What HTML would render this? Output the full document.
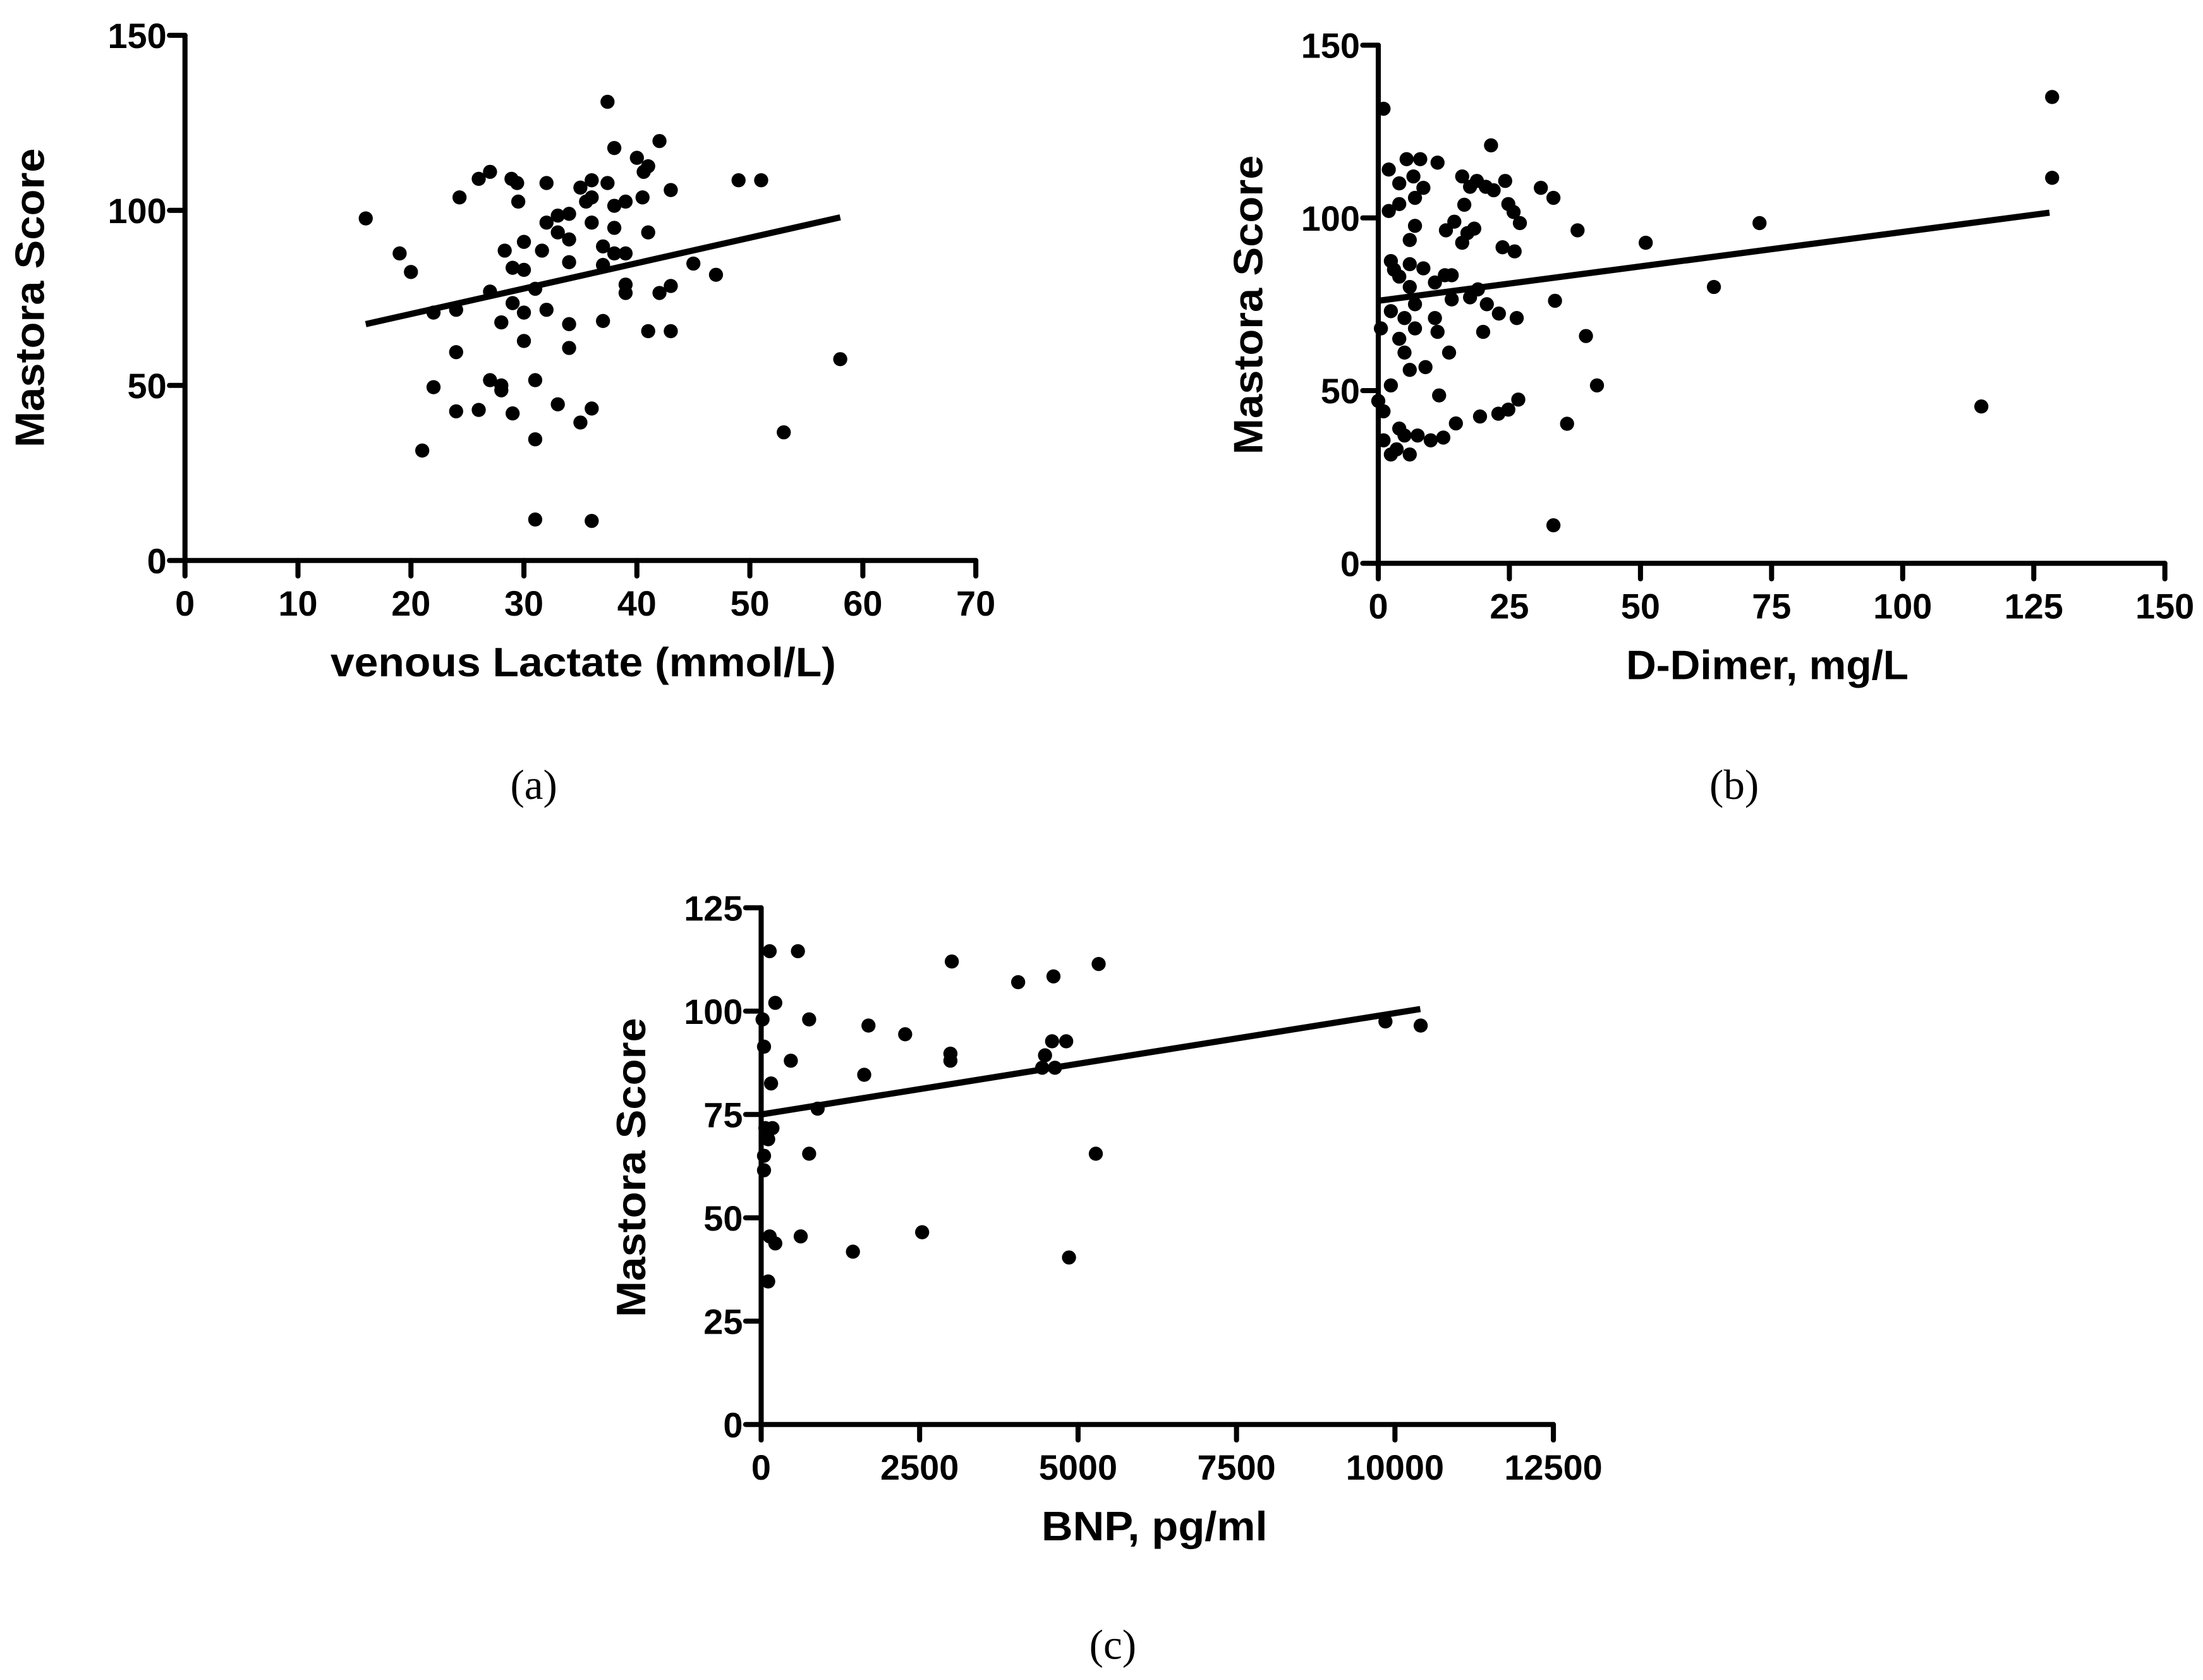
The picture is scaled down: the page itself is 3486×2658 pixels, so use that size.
<!DOCTYPE html>
<html><head><meta charset="utf-8"><style>
html,body{margin:0;padding:0;background:#fff}
svg{display:block}
text{font-family:"Liberation Sans",Arial,sans-serif;font-weight:bold;fill:#000}
.cap{font-family:"Liberation Serif",serif;font-weight:normal}
</style></head><body>
<svg id="fig" width="3486" height="2658" viewBox="0 0 1560 1190" preserveAspectRatio="none" xmlns="http://www.w3.org/2000/svg">
<rect width="1560" height="1190" fill="#fff"/>
</svg>
<script>
// Panel A: venous lactate
const aX=[16,19,20,21,22,22,24,24.3,24,24,26,26,27,27,27,28,28,28.3,28,28.9,29.4,29,29,29.5,29,30,30,30,30,31,31,31,31,31.6,32,32,32,33,33,33,34,34,34,34,34,35,35,35.5,36,36,36,36,36,37.4,37.4,37,37,37,38,38,38,38,39,39,39,39,40,40.5,40.6,41,41,41,42,42,43,43,43,45,47,49,51,53,58];
const aY=[97.7,87.7,82.4,31.4,70.8,49.5,59.5,103.7,42.6,71.6,109,43,111,76.8,51.5,50,68,88.5,48.6,109,107.8,73.5,83.6,102.5,42,91,62.7,83,70.8,77.6,51.5,34.6,11.7,88.5,107.8,96.5,71.6,93.7,98.5,44.6,99,91.7,85.2,67.5,60.7,106.5,39.4,102.5,108.6,103.7,96.5,11.3,43.4,107.8,131,89.7,84.4,68.4,87.7,95,117.8,101.3,87.7,78.8,76.4,102.5,115,103.7,111,112.6,93.7,65.5,119.8,76.4,105.8,78.4,65.5,84.8,81.6,108.6,108.6,36.6,57.5];
const aLineX=[16,58], aLineY=[67.5,98];
const aXTicks=[0,10,20,30,40,50,60,70], aYTicks=[0,50,100,150];
// Panel B: D-dimer
const bX=[1,0.5,0,1,1,2,2,2.4,2.4,2.4,2.4,3,3.5,4,4,4,4,4,5,5,5,5.4,6,6,6,6,6,6.7,7,7,7,7,7.5,8,8.6,8.6,9,10,10.8,10.8,11.3,11.3,11.6,12.4,12.7,12.9,13.5,14,14,14.5,14.8,16,16,16.4,17,17.5,17.5,18.3,18.8,19,19.4,20,20.5,20.7,21.5,22,22.9,23,23.7,24.2,24.8,24.8,25.8,26,26.4,26.7,27,31,33.4,33.4,33.7,36,38,39.6,41.7,51,64,72.7,115,128.5,128.5];
const bY=[131.6,68,47,44,35.6,114,102,87.5,73,51.5,31.5,85,33,110,104,83,65,39,71,61,37,117,93.6,86.6,80,56,31.5,112,105.8,97.7,75,68,37,117,108.7,85.4,56.8,35.6,81.3,71,116,67,48.6,36.4,83.4,96.4,61,83.4,76.4,98.9,40.5,112,92.8,103.8,95.6,109,77,96.9,110.7,79.3,42.5,67,109,75,121,108,43.3,72.3,91.5,110.7,44.5,104,101.7,90.3,71,47.4,98.5,108.7,105.8,11,76,40.4,96.4,65.8,51.5,92.8,80,98.5,45.4,135,111.6];
const bLineX=[0,128], bLineY=[76,101.5];
const bXTicks=[0,25,50,75,100,125,150], bYTicks=[0,50,100,150];
// Panel C: BNP
const cX=[134,580,223,22,45,156,67,178,111,45,45,134,223,111,468,624,757,891,757,1448,1693,1626,2272,2540,3008,2986,2986,4055,4434,4479,4590,4612,4635,4813,4857,5280,5325,9850,10406];
const cY=[114.5,114.5,102,98,91.4,82.5,71.7,71.7,69,65,61.5,45.5,43.8,34.6,88,45.5,98,76.4,65.5,41.8,96.5,84.6,94.4,46.5,112,89.7,88,107,86.3,89.3,92.7,108.4,86.3,92.7,40.4,65.5,111.4,97.5,96.5];
const cLineX=[0,10400], cLineY=[75,100.5];
const cXTicks=[0,2500,5000,7500,10000,12500], cYTicks=[0,25,50,75,100,125];

const NS="http://www.w3.org/2000/svg";
const svg=document.getElementById('fig');
function mk(tag,attrs,parent,txt){const e=document.createElementNS(NS,tag);for(const k in attrs)e.setAttribute(k,attrs[k]);if(txt!=null)e.textContent=txt;parent.appendChild(e);return e;}

function panel(cfg){
  const g=mk('g',{},svg);
  
  
  const sx=v=>cfg.x0+(v-cfg.xmin)/(cfg.xmax-cfg.xmin)*(cfg.x1-cfg.x0);
  const sy=v=>cfg.y0-(v-cfg.ymin)/(cfg.ymax-cfg.ymin)*(cfg.y0-cfg.y1);
  const ax=mk('path',{d:`M${cfg.x0},${cfg.y1}V${cfg.y0}H${cfg.x1}`,stroke:'#000','stroke-width':3.6,fill:'none','stroke-linecap':'round'},g);
  
  
  cfg.xt.forEach(t=>{
    mk('line',{x1:sx(t),x2:sx(t),y1:cfg.y0,y2:cfg.y0+11,stroke:'#000','stroke-width':3.6,'stroke-linecap':'round'},g);
    const tx=mk('text',{x:sx(t),y:cfg.y0+39,'text-anchor':'middle','font-size':25},g,String(t));
    
    
  });
  cfg.yt.forEach(t=>{
    mk('line',{x1:cfg.x0-11,x2:cfg.x0,y1:sy(t),y2:sy(t),stroke:'#000','stroke-width':3.6,'stroke-linecap':'round'},g);
    const tx=mk('text',{x:cfg.x0-13,y:sy(t)+9,'text-anchor':'end','font-size':25},g,String(t));
    
    
  });
  const xl=mk('text',{x:(cfg.x0+cfg.x1)/2+cfg.xlo,y:cfg.y0+82,'text-anchor':'middle','font-size':29,textLength:cfg.xlw,lengthAdjust:'spacingAndGlyphs'},g,cfg.xlabel);
  
  
  const yl=mk('text',{x:0,y:0,'text-anchor':'middle','font-size':29,textLength:212,lengthAdjust:'spacingAndGlyphs',transform:`translate(${cfg.ylx},${cfg.ylc}) rotate(-90)`},g,'Mastora Score');
  
  
  cfg.xs.forEach((v,i)=>{
    const c=mk('circle',{cx:sx(v),cy:sy(cfg.ys[i]),r:5,fill:'#000'},g);
    
    
  });
  const ln=mk('line',{x1:sx(cfg.lx[0]),y1:sy(cfg.ly[0]),x2:sx(cfg.lx[1]),y2:sy(cfg.ly[1]),stroke:'#000','stroke-width':4.4},g);
  
  
  const cap=mk('text',{x:cfg.capx,y:cfg.capy,'text-anchor':'middle','font-size':30,class:'cap'},g,cfg.cap);
  
  
}
panel({name:'panel-a',x0:131,x1:691,y0:397,y1:25,xmin:0,xmax:70,ymin:0,ymax:150,xt:aXTicks,yt:aYTicks,xs:aX,ys:aY,lx:aLineX,ly:aLineY,xlabel:'venous Lactate (mmol/L)',xlo:2,xlw:358,ylx:31,ylc:211,cap:'(a)',capx:378,capy:566});
panel({name:'panel-b',x0:976,x1:1533,y0:399,y1:32,xmin:0,xmax:150,ymin:0,ymax:150,xt:bXTicks,yt:bYTicks,xs:bX,ys:bY,lx:bLineX,ly:bLineY,xlabel:'D-Dimer, mg/L',xlo:-3,xlw:200,ylx:894,ylc:216,cap:'(b)',capx:1228,capy:566});
panel({name:'panel-c',x0:539,x1:1100,y0:1009,y1:643,xmin:0,xmax:12500,ymin:0,ymax:125,xt:cXTicks,yt:cYTicks,xs:cX,ys:cY,lx:cLineX,ly:cLineY,xlabel:'BNP, pg/ml',xlo:-2,xlw:160,ylx:457,ylc:827,cap:'(c)',capx:788,capy:1175});
</script>
</body></html>
